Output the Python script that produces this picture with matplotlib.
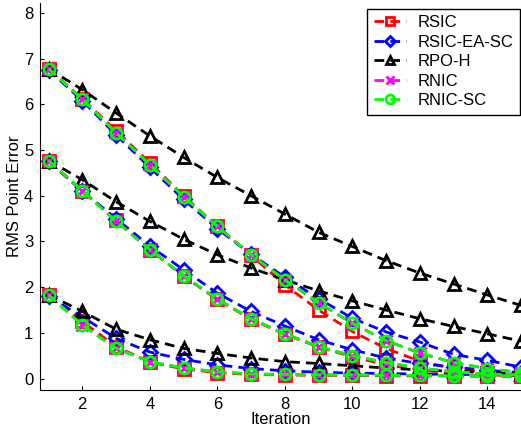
import matplotlib
matplotlib.use('Agg')
import matplotlib.pyplot as plt

plt.rcParams['font.family'] = ['Liberation Sans', 'DejaVu Sans']

iterations = list(range(1, 16))

# three starting error levels per method (high / mid / low)
rsic_hi = [6.78, 6.12, 5.42, 4.72, 4.00, 3.33, 2.70, 2.05, 1.50, 1.03, 0.66, 0.38, 0.22, 0.13, 0.08]
rsic_mid = [4.77, 4.11, 3.47, 2.82, 2.24, 1.73, 1.30, 0.97, 0.69, 0.48, 0.30, 0.19, 0.12, 0.08, 0.06]
rsic_lo = [1.83, 1.25, 0.70, 0.36, 0.21, 0.13, 0.09, 0.08, 0.07, 0.07, 0.06, 0.06, 0.06, 0.05, 0.05]

rsic_ea_hi = [6.75, 6.08, 5.33, 4.62, 3.92, 3.28, 2.72, 2.22, 1.75, 1.32, 1.02, 0.80, 0.53, 0.40, 0.25]
rsic_ea_mid = [4.75, 4.10, 3.50, 2.90, 2.38, 1.87, 1.47, 1.15, 0.85, 0.63, 0.45, 0.33, 0.25, 0.18, 0.13]
rsic_ea_lo = [1.80, 1.35, 0.88, 0.58, 0.42, 0.30, 0.22, 0.17, 0.14, 0.12, 0.11, 0.10, 0.09, 0.09, 0.08]

rpo_hi = [6.78, 6.32, 5.81, 5.31, 4.84, 4.40, 4.00, 3.60, 3.20, 2.89, 2.58, 2.31, 2.07, 1.83, 1.60]
rpo_mid = [4.77, 4.35, 3.87, 3.44, 3.05, 2.71, 2.42, 2.16, 1.92, 1.70, 1.50, 1.31, 1.14, 0.98, 0.82]
rpo_lo = [1.83, 1.47, 1.08, 0.85, 0.66, 0.55, 0.45, 0.37, 0.33, 0.28, 0.23, 0.19, 0.16, 0.13, 0.11]

rnic_hi = [6.78, 6.11, 5.38, 4.68, 3.98, 3.33, 2.71, 2.16, 1.66, 1.21, 0.83, 0.56, 0.35, 0.22, 0.13]
rnic_mid = [4.77, 4.11, 3.44, 2.82, 2.25, 1.74, 1.31, 0.98, 0.70, 0.50, 0.35, 0.23, 0.15, 0.10, 0.08]
rnic_lo = [1.83, 1.17, 0.66, 0.37, 0.23, 0.15, 0.10, 0.09, 0.08, 0.08, 0.07, 0.07, 0.06, 0.06, 0.06]

rnic_sc_hi = [6.78, 6.11, 5.38, 4.68, 3.98, 3.33, 2.71, 2.16, 1.66, 1.21, 0.83, 0.56, 0.35, 0.22, 0.13]
rnic_sc_mid = [4.77, 4.11, 3.44, 2.82, 2.25, 1.74, 1.31, 0.98, 0.70, 0.50, 0.35, 0.23, 0.15, 0.10, 0.08]
rnic_sc_lo = [1.83, 1.17, 0.66, 0.37, 0.23, 0.15, 0.10, 0.09, 0.08, 0.08, 0.07, 0.07, 0.06, 0.06, 0.06]

methods = [
    ('RSIC', 'red', 's', [rsic_hi, rsic_mid, rsic_lo]),
    ('RSIC-EA-SC', 'blue', 'D', [rsic_ea_hi, rsic_ea_mid, rsic_ea_lo]),
    ('RPO-H', 'black', '^', [rpo_hi, rpo_mid, rpo_lo]),
    ('RNIC', 'magenta', 'x', [rnic_hi, rnic_mid, rnic_lo]),
    ('RNIC-SC', '#00ff00', 'o', [rnic_sc_hi, rnic_sc_mid, rnic_sc_lo]),
]

fig = plt.figure(figsize=(5.21, 4.36), dpi=100)
ax = fig.add_axes([0.077, 0.1055, 0.923, 0.888])

handles = []
for name, color, marker, curves in methods:
    ms = 8 if marker != 'D' else 7
    for k, ys in enumerate(curves):
        line, = ax.plot(iterations, ys, color=color, linestyle='--', dashes=(3.5, 2.2),
                        linewidth=2, marker=marker, markersize=ms, markeredgewidth=2,
                        markerfacecolor='none', markeredgecolor=color,
                        label=name if k == 0 else None)
        if k == 0:
            handles.append(line)

ax.set_xlim(0.75, 15.0)
ax.set_ylim(-0.25, 8.22)
ax.set_xticks([2, 4, 6, 8, 10, 12, 14])
ax.set_yticks(range(0, 9))
ax.tick_params(direction='in', labelsize=12, length=3, pad=5)
ax.spines['top'].set_visible(False)
ax.spines['right'].set_visible(False)
ax.set_xlabel('Iteration', fontsize=12, labelpad=0)
ax.set_ylabel('RMS Point Error', fontsize=12, labelpad=1)

leg = ax.legend(handles=handles, loc='upper right', bbox_to_anchor=(0.998, 0.985),
                borderaxespad=0, fontsize=12, handlelength=1.9, handletextpad=0.7,
                labelspacing=0.27, borderpad=0.4, fancybox=False, framealpha=1,
                edgecolor='black', markerscale=0.8)
leg.get_frame().set_linewidth(1.0)

fig.savefig('out.png', dpi=100)
